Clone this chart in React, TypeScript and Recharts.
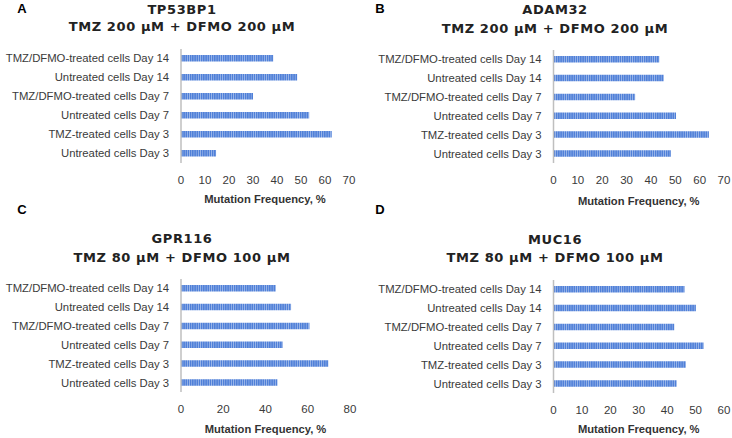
import React from "react";
import { BarChart, Bar, XAxis, YAxis } from "recharts";

const categories = [
  "Untreated cells Day 3",
  "TMZ-treated cells Day 3",
  "Untreated cells Day 7",
  "TMZ/DFMO-treated cells Day 7",
  "Untreated cells Day 14",
  "TMZ/DFMO-treated cells Day 14",
];

const tp53bp1Values = [14.6, 62.8, 53.4, 30.0, 48.4, 38.4];
const adam32Values = [48.2, 63.8, 50.3, 33.5, 45.3, 43.4];
const gpr116Values = [45.7, 69.7, 48.1, 60.8, 52.1, 44.9];
const muc16Values = [43.4, 46.6, 52.8, 42.5, 50.1, 46.1];

const ticks70 = [0, 10, 20, 30, 40, 50, 60, 70];
const ticks80 = [0, 20, 40, 60, 80];
const ticks60 = [0, 10, 20, 30, 40, 50, 60];

const axisLabel = "Mutation Frequency, %";

const build = (values: number[]) =>
  categories.map((name, i) => ({ name, value: values[i] }));

const LABEL_FONT = "'Liberation Sans', Arial, sans-serif";
const TITLE_FONT = "'DejaVu Sans', Verdana, sans-serif";

function CategoryTick(props: any) {
  const { x, y, payload } = props;
  return (
    <text
      x={x}
      y={y}
      dy="0.35em"
      textAnchor="end"
      fontSize={11.3}
      fill="#3a3a3a"
      fontFamily={LABEL_FONT}
    >
      {payload.value}
    </text>
  );
}

type PanelProps = {
  id: string;
  left: number;
  top: number;
  values: number[];
  ticks: number[];
  max: number;
  margin: { top: number; right: number; left: number; bottom: number };
  yWidth: number;
  xHeight: number;
  labelOffset: number;
  gene: string;
  dose: string;
  titleX: number;
  titleY1: number;
  titleY2: number;
  letter: string;
  letterX: number;
  letterY: number;
};

function Panel(p: PanelProps) {
  const data = build(p.values);
  const titleStyle: React.CSSProperties = {
    position: "absolute",
    left: p.titleX - 160,
    width: 320,
    lineHeight: "16px",
    textAlign: "center",
    fontFamily: TITLE_FONT,
    fontWeight: 700,
    fontSize: 13,
    letterSpacing: "0.6px",
    color: "#222",
    whiteSpace: "nowrap",
  };
  return (
    <div style={{ position: "absolute", left: p.left, top: p.top, width: 366, height: 219 }}>
      <BarChart
        width={366}
        height={219}
        data={data}
        layout="vertical"
        margin={p.margin}
        barCategoryGap={0}
      >
        <defs>
          <pattern id={"stripes" + p.id} patternUnits="userSpaceOnUse" width="2.2" height="10">
            <rect x="0" y="0" width="2.2" height="10" fill="#5080D8" />
            <rect x="0" y="0" width="0.6" height="10" fill="#B0C6EE" />
          </pattern>
        </defs>
        <XAxis
          type="number"
          domain={[0, p.max]}
          ticks={p.ticks}
          axisLine={false}
          tickLine={false}
          tickSize={0}
          tickMargin={13}
          height={p.xHeight}
          tick={{ fontSize: 11.5, fill: "#3a3a3a", fontFamily: LABEL_FONT }}
          label={{
            value: axisLabel,
            position: "insideBottom",
            offset: p.labelOffset,
            style: { fontSize: 11.2, fontWeight: 700, fill: "#333", fontFamily: LABEL_FONT },
          }}
        />
        <YAxis
          type="category"
          dataKey="name"
          reversed
          width={p.yWidth}
          interval={0}
          tickLine={false}
          tickSize={0}
          tickMargin={12}
          axisLine={{ stroke: "#BFBFBF", strokeWidth: 1.5 }}
          tick={<CategoryTick />}
        />
        <Bar
          dataKey="value"
          barSize={6.5}
          fill={"url(#stripes" + p.id + ")"}
          isAnimationActive={false}
        />
      </BarChart>
      <div style={{ ...titleStyle, top: p.titleY1 - 8 }}>{p.gene}</div>
      <div style={{ ...titleStyle, top: p.titleY2 - 8 }}>{p.dose}</div>
      <div
        style={{
          position: "absolute",
          left: p.letterX - 10,
          width: 20,
          top: p.letterY - 8,
          lineHeight: "16px",
          textAlign: "center",
          fontFamily: LABEL_FONT,
          fontWeight: 700,
          fontSize: 13,
          color: "#000",
        }}
      >
        {p.letter}
      </div>
    </div>
  );
}

export default function App() {
  return (
    <div
      style={{
        position: "absolute",
        left: 0,
        top: 0,
        width: 732,
        height: 438,
        background: "#fff",
        overflow: "hidden",
      }}
    >
      <Panel
        id="A"
        left={0}
        top={0}
        values={tp53bp1Values}
        ticks={ticks70}
        max={70}
        margin={{ top: 49, right: 17, left: 0, bottom: 0 }}
        yWidth={181}
        xHeight={56}
        labelOffset={16}
        gene="TP53BP1"
        dose="TMZ 200 μM + DFMO 200 μM"
        titleX={182}
        titleY1={10}
        titleY2={26.5}
        letter="A"
        letterX={22}
        letterY={9}
      />
      <Panel
        id="B"
        left={366}
        top={0}
        values={adam32Values}
        ticks={ticks70}
        max={70}
        margin={{ top: 50, right: 8, left: 0, bottom: 0 }}
        yWidth={187.5}
        xHeight={56}
        labelOffset={14}
        gene="ADAM32"
        dose="TMZ 200 μM + DFMO 200 μM"
        titleX={189}
        titleY1={10}
        titleY2={28.5}
        letter="B"
        letterX={14}
        letterY={9}
      />
      <Panel
        id="C"
        left={0}
        top={219}
        values={gpr116Values}
        ticks={ticks80}
        max={80}
        margin={{ top: 60, right: 16, left: 0, bottom: 0 }}
        yWidth={181}
        xHeight={46}
        labelOffset={5}
        gene="GPR116"
        dose="TMZ 80 μM + DFMO 100 μM"
        titleX={182}
        titleY1={20}
        titleY2={39}
        letter="C"
        letterX={22}
        letterY={-9}
      />
      <Panel
        id="D"
        left={366}
        top={219}
        values={muc16Values}
        ticks={ticks60}
        max={60}
        margin={{ top: 61, right: 8, left: 0, bottom: 0 }}
        yWidth={187.5}
        xHeight={45}
        labelOffset={5}
        gene="MUC16"
        dose="TMZ 80 μM + DFMO 100 μM"
        titleX={189}
        titleY1={20.5}
        titleY2={39}
        letter="D"
        letterX={14}
        letterY={-9}
      />
    </div>
  );
}
